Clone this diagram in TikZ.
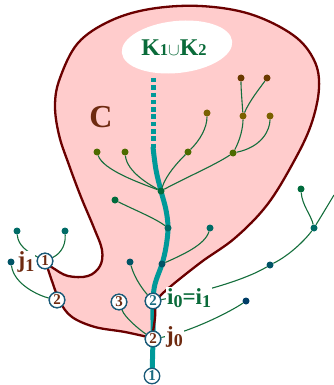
\documentclass[tikz,border=0pt]{standalone}
\usepackage{fontspec}
\setmainfont{Liberation Serif}
\usetikzlibrary{shapes.geometric}
\definecolor{blobfill}{RGB}{255,204,204}
\definecolor{blobline}{RGB}{107,0,0}
\definecolor{trunkc}{RGB}{0,153,153}
\definecolor{brc}{RGB}{20,110,60}
\definecolor{cBrown}{RGB}{107,58,0}
\definecolor{cOlive}{RGB}{122,96,0}
\definecolor{cOlGreen}{RGB}{77,107,0}
\definecolor{cGreen}{RGB}{0,107,60}
\definecolor{cTeal}{RGB}{0,107,102}
\definecolor{cTealBlue}{RGB}{0,84,102}
\definecolor{cBlue}{RGB}{0,61,102}
\definecolor{txtgreen}{RGB}{10,107,58}
\definecolor{txtbrown}{RGB}{110,42,16}
\definecolor{circline}{RGB}{26,90,120}
\definecolor{circteal}{RGB}{26,107,128}
\newcommand\lsub[1]{\raisebox{-3.5pt}{\fontsize{18}{18}\selectfont #1}}
\newcommand\ksub[1]{{\fontsize{16.5}{16.5}\selectfont #1}}
\newcommand\myblob{plot[smooth,tension=0.6] coordinates {(46,263) (53,284) (60,302) (72,317) (95,327) (125,332) (152,338)}
 -- plot[smooth,tension=0.6] coordinates {(152,338) (155,318) (156,304) (163,293) (200,263) (235,238) (267,205) (293,163) (311,125) (319,88) (314,60) (293,35) (250,14) (200,6) (150,9) (110,21) (78,43) (60,78) (55,105) (59,135) (69,165) (81,197) (94,228) (102,250) (100,266) (88,276) (68,276) (53,268) (46,263)} -- cycle}
\begin{document}
\begin{tikzpicture}[x=1pt,y=-1pt,
  dot/.style={circle,inner sep=0pt,minimum size=7pt},
  br/.style={draw=brc,line width=1.1pt},
  trunk/.style={draw=trunkc,line width=5pt},
  cnum/.style={circle,draw=circline,fill=white,line width=1.3pt,inner sep=0pt,minimum size=15.5pt,font=\fontsize{15}{15}\selectfont\bfseries},
  lbl/.style={fill=white,inner sep=1pt,font=\fontsize{23}{23}\selectfont\bfseries}]
\useasboundingbox (0,0) rectangle (334,385);
% blob fill
\fill[blobfill] \myblob;
% white ellipse
\node[ellipse,fill=white,minimum width=111pt,minimum height=52pt,inner sep=0pt,rotate=6] (kell) at (177,47) {};
\node[text=txtgreen,font=\fontsize{24}{24}\selectfont\bfseries] (ktxt) at (174,48) {K\ksub{1}{\fontsize{18}{18}\selectfont$\cup$}K\ksub{2}};
% trunk
\coordinate (tTop) at (153,78);
\coordinate (tMid) at (153,148);
\draw[trunk,dash pattern=on 4.5pt off 2.8pt] (tTop) -- (tMid);
\draw[trunk] plot[smooth,tension=0.6] coordinates {(153,147) (156,170) (161,191) (166,210) (168,228) (166,247) (162,264) (155,284) (153,301) (153,320) (153,339) (152,376)};
% blob outline
\draw[blobline,line width=2.3pt,line join=round] \myblob;
% dots
\node[dot,fill=cBrown] (t1) at (241,78) {};
\node[dot,fill=cBrown] (t2) at (267,78) {};
\node[dot,fill=cOlive] (m1) at (207,113) {};
\node[dot,fill=cOlive] (m2) at (243,116) {};
\node[dot,fill=cOlive] (m3) at (270,116) {};
\node[dot,fill=cOlGreen] (g1) at (97,152) {};
\node[dot,fill=cOlGreen] (g2) at (125,152) {};
\node[dot,fill=cOlGreen] (g3) at (188,152) {};
\node[dot,fill=cOlGreen] (g4) at (233,153) {};
\node[dot,fill=cGreen] (A) at (161,191) {};
\node[dot,fill=cGreen] (e1) at (115,200) {};
\node[dot,fill=cTeal] (B) at (168,228) {};
\node[dot,fill=cTeal] (e2) at (210,228) {};
\node[dot,fill=cTealBlue] (D) at (162,264) {};
\node[dot,fill=cTealBlue] (e3) at (130,262) {};
\node[dot,fill=cTeal] (l1) at (17,231) {};
\node[dot,fill=cTeal] (l2) at (65,231) {};
\node[dot,fill=cTealBlue] (l3) at (11,262) {};
\node[dot,fill=cGreen] (r3) at (301,189) {};
\node[dot,fill=cTeal] (r2) at (314,228) {};
\node[dot,fill=cTealBlue] (r1) at (270,265) {};
\node[dot,fill=cBlue] (bd) at (246,301) {};
\coordinate (rEnd) at (334,195);
% circled numbers
\node[cnum,text=txtbrown] (j1) at (45,261) {1};
\node[cnum,text=txtbrown] (c2L) at (57,300) {2};
\node[cnum,text=txtbrown] (c3) at (119,302) {3};
\node[cnum,text=circteal] (i0) at (153,301) {2};
\node[cnum,text=txtbrown] (j0) at (153,339) {2};
\node[cnum,text=circteal] (bot) at (152,376) {1};
% branches
\draw[br] (g1) .. controls (103,170) and (140,183) .. (A);
\draw[br] (g2) .. controls (127,172) and (150,185) .. (A);
\draw[br] (A) .. controls (166,175) and (178,162) .. (g3);
\draw[br] (g3) .. controls (200,140) and (207,128) .. (m1);
\draw[br] (A) .. controls (185,178) and (215,165) .. (g4);
\draw[br] (g4) .. controls (262,147) and (270,130) .. (m3);
\draw[br] (g4) .. controls (240,140) and (243,128) .. (m2);
\draw[br] (m2) .. controls (242,100) and (241,90) .. (t1);
\draw[br] (m2) .. controls (250,100) and (260,88) .. (t2);
\draw[br] (e1) .. controls (130,208) and (155,218) .. (B);
\draw[br] (D) .. controls (182,255) and (205,245) .. (e2);
\draw[br] (e3) .. controls (135,280) and (145,292) .. (i0);
\draw[br] (c3) .. controls (125,318) and (140,330) .. (j0);
\draw[br] (l1) .. controls (18,246) and (28,252) .. (j1);
\draw[br] (l2) .. controls (66,248) and (58,255) .. (j1);
\draw[br] (l3) .. controls (14,285) and (40,296) .. (c2L);
\draw[br] (i0) .. controls (200,293) and (245,280) .. (r1) .. controls (290,255) and (305,240) .. (r2) .. controls (322,215) and (328,205) .. (rEnd);
\draw[br] (r3) .. controls (302,205) and (311,215) .. (r2);
\draw[br] (j0) .. controls (190,332) and (230,312) .. (bd);
% redraw circles on top of branches
\node[cnum,text=txtbrown] at (j1) {1};
\node[cnum,text=txtbrown] at (c2L) {2};
\node[cnum,text=txtbrown] at (c3) {3};
\node[cnum,text=circteal] at (i0) {2};
\node[cnum,text=txtbrown] at (j0) {2};
% labels
\node[text=txtbrown,font=\fontsize{32}{32}\selectfont\bfseries] (C) at (101,117) {C};
\node[lbl,text=txtbrown] (lj1) at (26,262) {j\lsub{1}};
\node[lbl,text=txtgreen,anchor=west] (li) at (166,298) {i\lsub{0}=i\lsub{1}};
\node[lbl,text=txtbrown,anchor=west] (lj0) at (165,337) {j\lsub{0}};
\end{tikzpicture}
\end{document}
